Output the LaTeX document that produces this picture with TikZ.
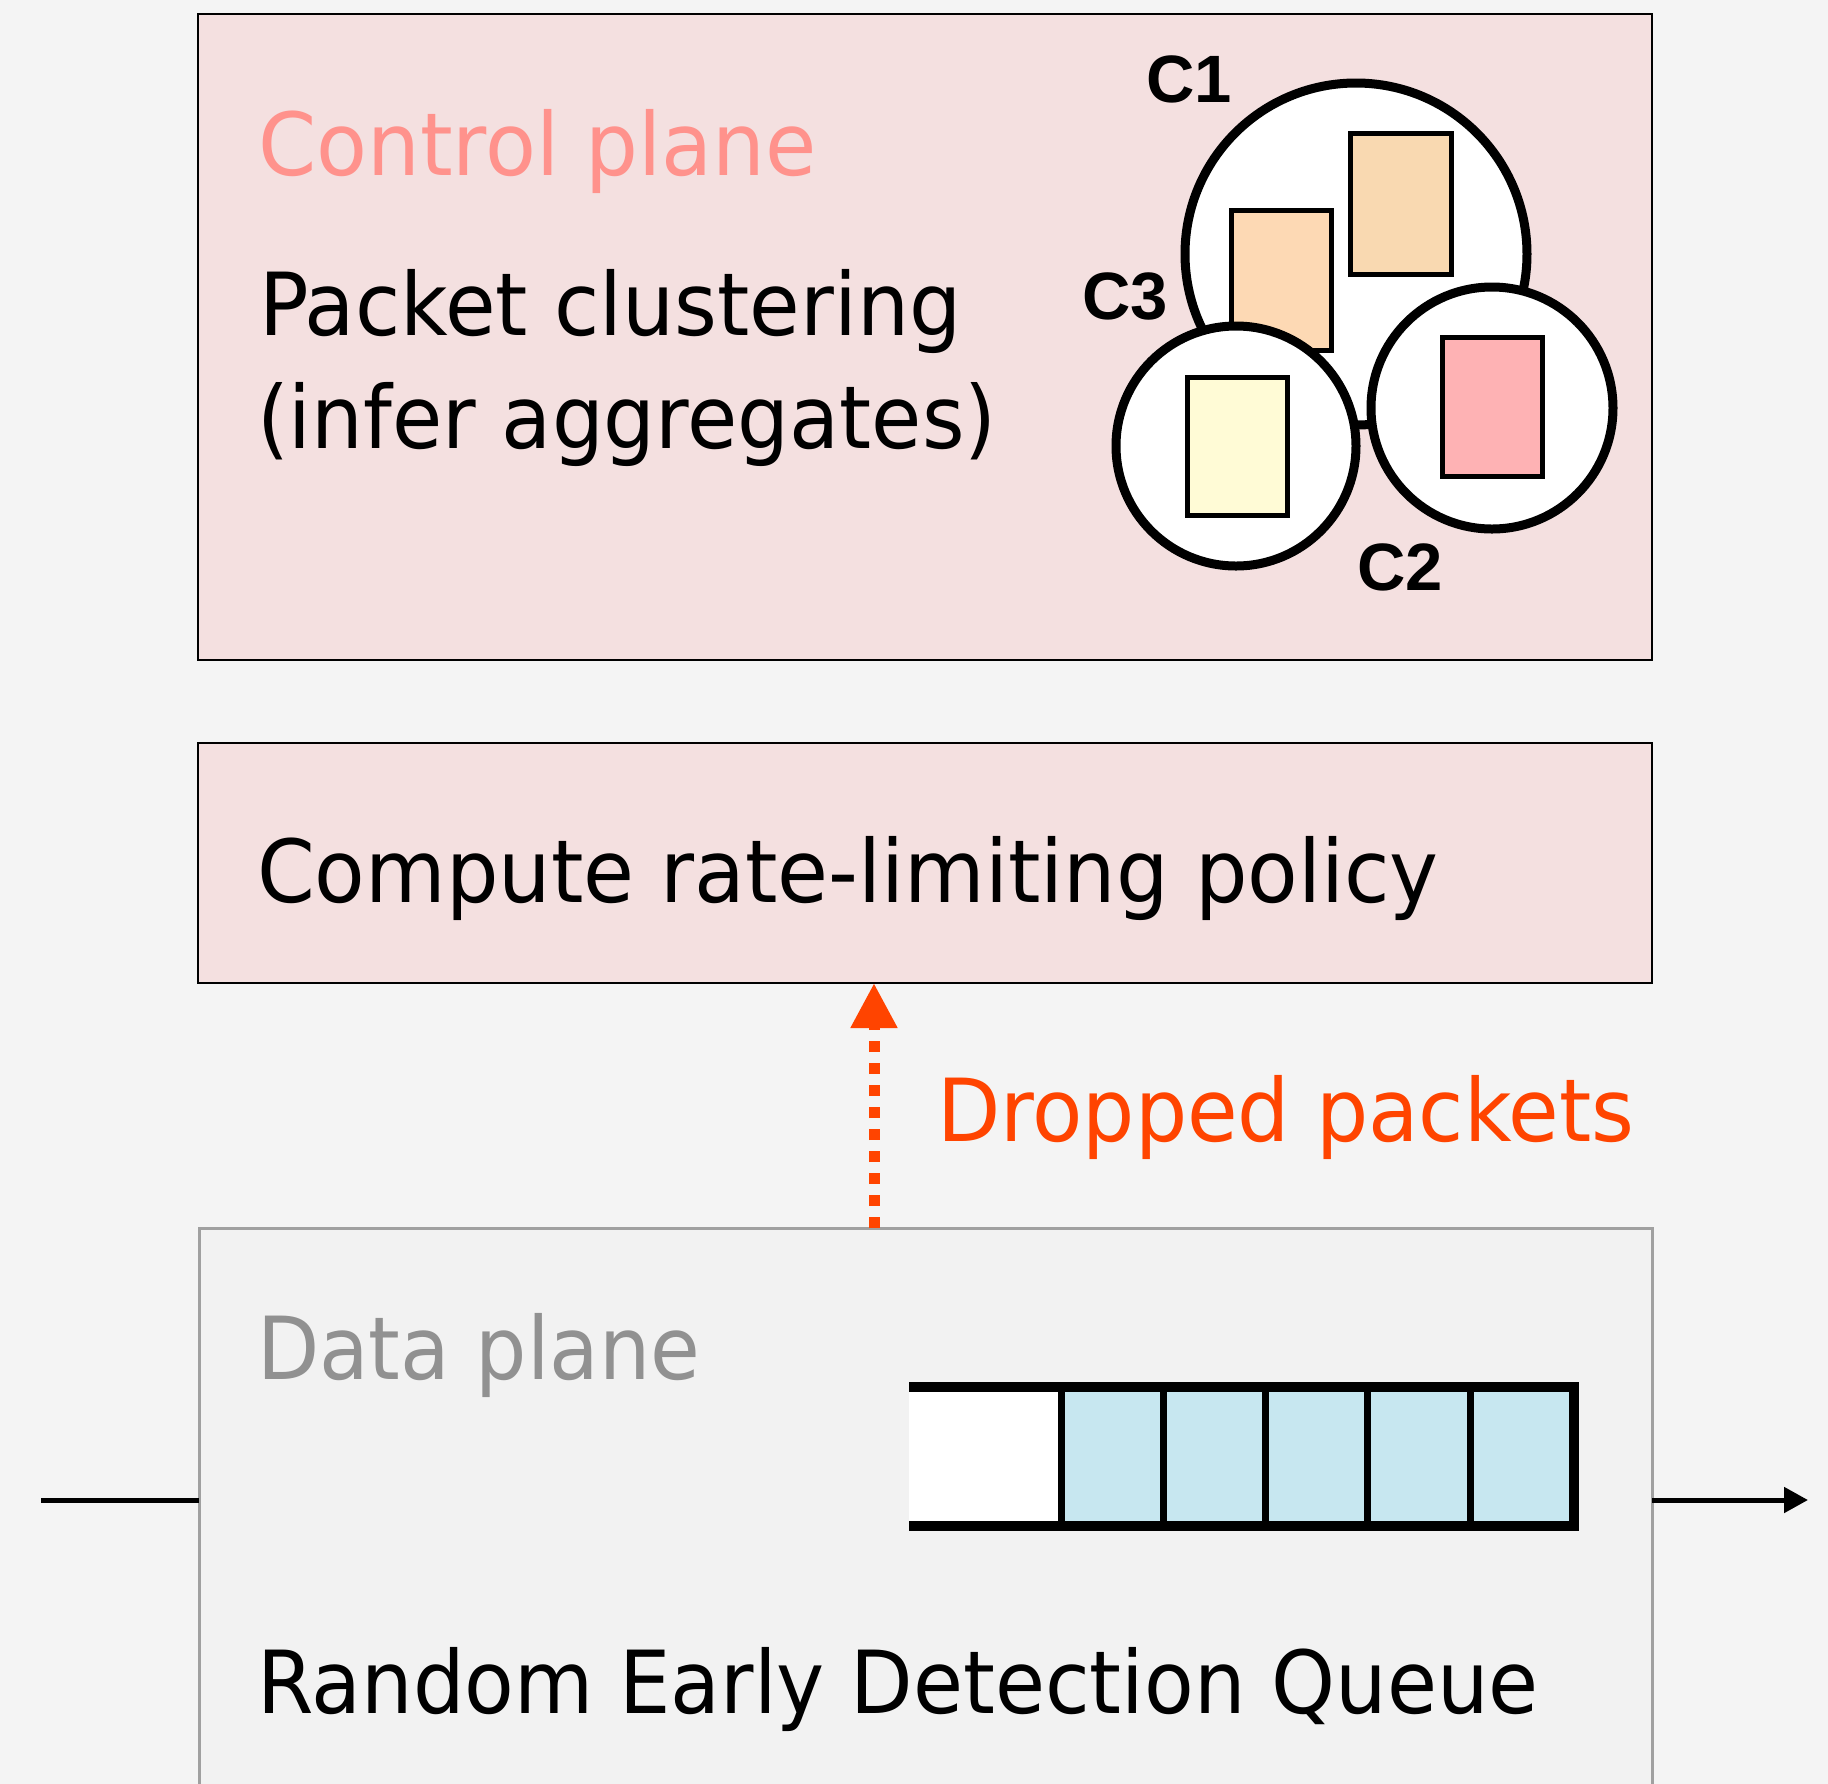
\documentclass[tikz,border=0pt]{standalone}
\usepackage{fontspec}
\usetikzlibrary{arrows.meta}
\newfontfamily\mainf[FakeStretch=0.93]{DejaVu Sans}
\newfontfamily\clf{Liberation Sans}
\definecolor{bgc}{RGB}{244,244,244}
\definecolor{ctrlfill}{RGB}{244,224,224}
\definecolor{datafill}{RGB}{242,242,242}
\definecolor{databorder}{RGB}{160,160,160}
\definecolor{ctrltext}{RGB}{255,146,140}
\definecolor{datatext}{RGB}{145,145,145}
\definecolor{dropc}{RGB}{255,68,0}
\definecolor{qblue}{RGB}{199,231,240}
\definecolor{peachA}{RGB}{253,217,180}
\definecolor{peachB}{RGB}{249,217,177}
\definecolor{yelc}{RGB}{255,251,214}
\definecolor{pinkc}{RGB}{254,178,180}
\tikzset{
  planebox/.style={draw=black, line width=1.25pt, fill=ctrlfill, rectangle, anchor=north west, inner sep=0pt, outer sep=0pt},
  databox/.style={draw=databorder, line width=1.5pt, fill=datafill, rectangle, anchor=north west, inner sep=0pt, outer sep=0pt},
  lbl/.style={anchor=base west, inner sep=0pt, outer sep=0pt, font=\mainf\fontsize{43.5pt}{50pt}\selectfont},
  clbl/.style={anchor=base west, inner sep=0pt, outer sep=0pt, font=\clf\bfseries\fontsize{33.5pt}{40pt}\selectfont},
  clus/.style={draw=black, line width=4.5pt, fill=white},
  pkt/.style={draw=black, line width=2.5pt},
  qcell/.style={draw=black, line width=3.5pt, fill=qblue},
  wire/.style={draw=black, line width=2.5pt},
  dropline/.style={draw=dropc, line width=5.5pt, dash pattern=on 5.5pt off 5.5pt, -{Triangle[length=22.5pt,width=22pt]}}
}
\begin{document}
\begin{tikzpicture}[x=0.5pt,y=-0.5pt]
\useasboundingbox (0,0) rectangle (1828,1784);
\fill[bgc] (0,0) rectangle (1828,1784);
\clip (0,0) rectangle (1828,1784);

% boxes
\node[planebox, minimum width=727pt, minimum height=323pt] (ctrl) at (198,14) {};
\node[planebox, minimum width=727pt, minimum height=120pt] (cmp) at (198,743) {};
\node[databox, minimum width=726.5pt, minimum height=300pt] (data) at (199,1228) {};

% texts
\node[lbl, text=ctrltext] (tctrl) at (258,175) {\scalebox{1.03}[1]{Control plane}};
\node[lbl] (tpkt) at (259,335) {\scalebox{1.017}[1]{Packet clustering}};
\node[lbl] (tinf) at (257,448) {\scalebox{1.01}[1]{(infer aggregates)}};
\node[lbl] (tcmp) at (257,902) {\scalebox{1.023}[1]{Compute rate-limiting policy}};
\node[lbl, text=dropc] (tdrop) at (937,1141) {\scalebox{1.017}[1]{Dropped packets}};
\node[lbl, text=datatext] (tdata) at (257,1379) {Data plane};
\node[lbl] (tred) at (257,1713) {\scalebox{1.005}[1]{Random Early Detection Queue}};

% clusters
\draw[clus] (1356,254) circle [radius=171];
\filldraw[pkt, fill=peachA] (1231,210) rectangle (1331,350);
\filldraw[pkt, fill=peachB] (1350,133) rectangle (1451,274);
\draw[clus] (1236,446) circle [radius=120];
\filldraw[pkt, fill=yelc] (1187,377) rectangle (1287,515);
\draw[clus] (1492,408) circle [radius=121];
\filldraw[pkt, fill=pinkc] (1442,337) rectangle (1542,476);
\node[clbl] (lc1) at (1146,102) {C1};
\node[clbl] (lc3) at (1082,319) {C3};
\node[clbl] (lc2) at (1357,590) {C2};

% queue
\fill[white] (909,1387) rectangle (1061,1526);
\draw[qcell] (1061,1387) rectangle (1163,1526);
\draw[qcell] (1163,1387) rectangle (1265,1526);
\draw[qcell] (1265,1387) rectangle (1367,1526);
\draw[qcell] (1367,1387) rectangle (1470,1526);
\draw[qcell] (1470,1387) rectangle (1574,1526);
\draw[black, line width=5pt] (909,1387) -- (1574,1387) -- (1574,1526) -- (909,1526);

% connectors
\coordinate (ax) at (874,0);
\draw[dropline] (data.north -| ax) -- (cmp.south -| ax);
\coordinate (inp) at (41,1500);
\coordinate (outp) at (1808,1500);
\draw[wire] (inp) -- (inp -| data.west);
\draw[wire, -{Triangle[length=12pt,width=12.5pt]}] (outp -| data.east) -- (outp);
\end{tikzpicture}
\end{document}
